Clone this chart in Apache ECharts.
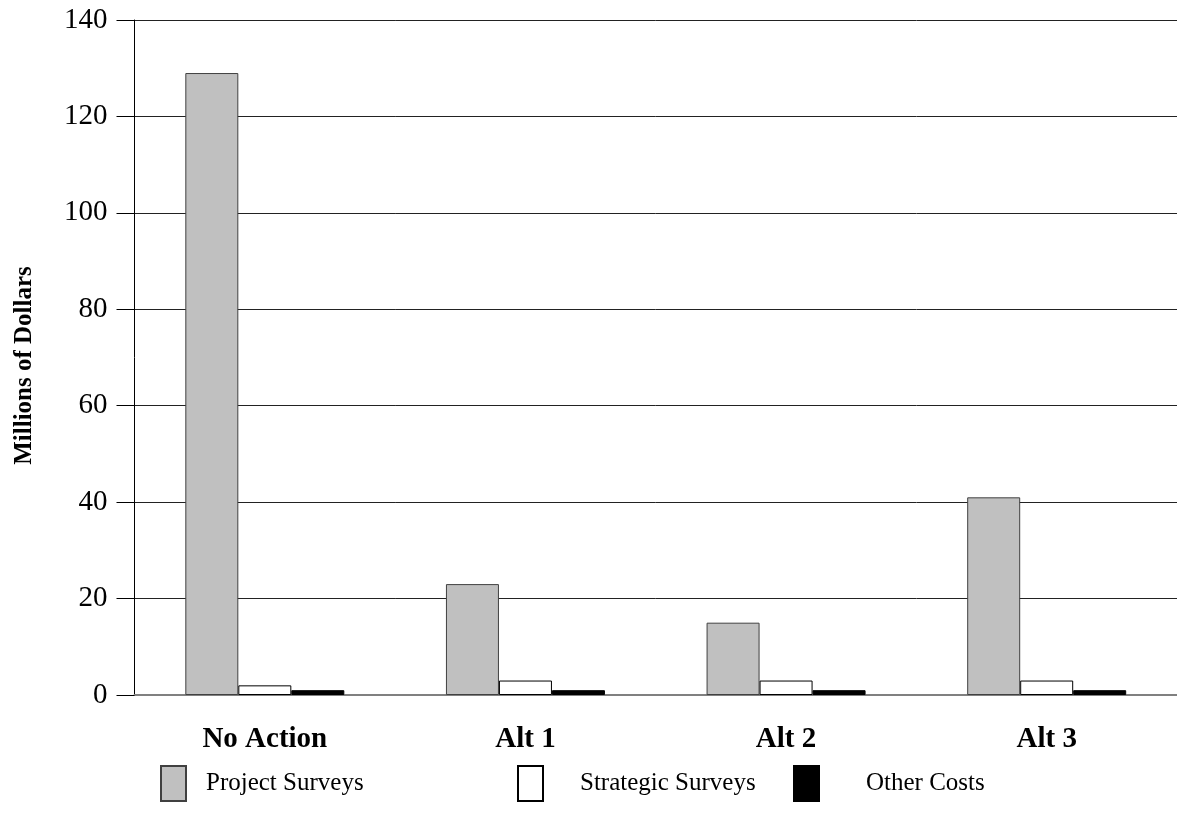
<!DOCTYPE html>
<html>
<head>
<meta charset="utf-8">
<script src="https://cdn.jsdelivr.net/npm/echarts@6/dist/echarts.min.js"></script>
<style>
html,body{margin:0;padding:0;background:#fff;}
#chart{width:1177px;height:829px;}
</style>
</head>
<body>
<div id="chart"></div>
<script>
const categories = ["No Action", "Alt 1", "Alt 2", "Alt 3"];
const projectSurveys = [129, 23, 15, 41];
const strategicSurveys = [2, 3, 3, 3];
const otherCosts = [1, 1, 1, 1];
const seriesNames = ["Project Surveys", "Strategic Surveys", "Other Costs"];
const yTicks = [0, 20, 40, 60, 80, 100, 120, 140];

const chart = echarts.init(document.getElementById('chart'));
const font = '"Liberation Serif", "Times New Roman", serif';
function legendAt(name, left, textGap) {
  return {
    data: [{name: name, icon: 'rect'}], left: left, top: 765, padding: 0,
    itemWidth: 25, itemHeight: 35,
    textStyle: {fontFamily: font, fontSize: 25, color: '#000', padding: [0, 0, 0, textGap]},
    selectedMode: false
  };
}
chart.setOption({
  animation: false,
  backgroundColor: '#fff',
  grid: {left: 134.5, right: 0, top: 20, bottom: 134},
  legend: [
    legendAt(seriesNames[0], 160, 15),
    legendAt(seriesNames[1], 517, 32),
    legendAt(seriesNames[2], 793, 42)
  ],
  xAxis: {
    type: 'category',
    data: categories,
    axisLine: {lineStyle: {color: '#808080', width: 2}},
    axisTick: {alignWithLabel: true, length: 13, lineStyle: {color: '#000'}},
    axisLabel: {fontFamily: font, fontSize: 29, fontWeight: 'bold', color: '#000', margin: 30}
  },
  yAxis: {
    type: 'value',
    min: yTicks[0], max: yTicks[yTicks.length - 1], interval: 20,
    name: 'Millions of Dollars',
    nameLocation: 'middle',
    nameGap: 97,
    nameTextStyle: {fontFamily: font, fontSize: 25, fontWeight: 'bold', color: '#000', padding: [0, 16, 0, 0]},
    axisLine: {show: true, lineStyle: {color: '#000', width: 1}},
    axisTick: {show: true, inside: false, length: 18, lineStyle: {color: '#000'}},
    axisLabel: {fontFamily: font, fontSize: 29, color: '#000', margin: 27},
    splitLine: {show: true, lineStyle: {color: '#222', width: 1}}
  },
  series: [
    {name: seriesNames[0], type: 'bar', data: projectSurveys, barWidth: 53, barGap: '0%',
     itemStyle: {color: '#c0c0c0', borderColor: '#404040', borderWidth: 1}},
    {name: seriesNames[1], type: 'bar', data: strategicSurveys, barWidth: 53, barGap: '0%',
     itemStyle: {color: '#ffffff', borderColor: '#000', borderWidth: 1}},
    {name: seriesNames[2], type: 'bar', data: otherCosts, barWidth: 53, barGap: '0%',
     itemStyle: {color: '#000000', borderColor: '#000', borderWidth: 1}}
  ]
});
</script>
</body>
</html>
